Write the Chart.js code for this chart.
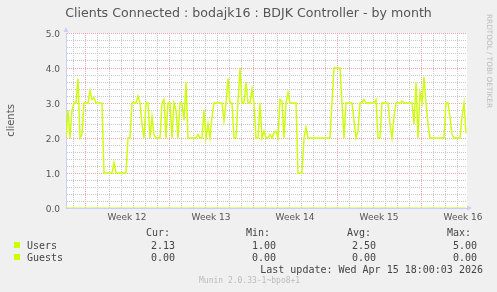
<!DOCTYPE html>
<html lang="en">
<head>
  <meta charset="UTF-8" />
  <title>Clients Connected : bodajk16 : BDJK Controller - by month</title>
  <script src="https://cdn.jsdelivr.net/npm/chart.js"></script>
  <style>
    * { box-sizing: border-box; margin: 0; padding: 0; }
    body { width: 497px; height: 292px; background: #f0f0f0; overflow: hidden; position: relative; font-family: "DejaVu Sans", sans-serif; }
    #graph { position: absolute; left: 0; top: 0; }
    .txt { position: absolute; white-space: pre; }
    #title { left: 0; width: 497px; top: 7px; text-align: center; font-size: 12.6px; line-height: 12px; color: #555; }
    #rrd { left: 485px; top: 14px; writing-mode: vertical-rl; font-size: 7.3px; line-height: 8px; color: #bbb; }
    .mono { font-family: "DejaVu Sans Mono", monospace; font-size: 10px; line-height: 10px; color: #444; }
    .num { text-align: right; }
    .sq { position: absolute; width: 6px; height: 6px; background: #ccff00; }
    #munin { left: 199px; top: 277px; font-family: "DejaVu Sans Mono", monospace; font-size: 8px; line-height: 8px; color: #bbb; }
  </style>
</head>
<body>
  <canvas id="graph" width="497" height="292"></canvas>

  <div class="txt" id="title">Clients Connected : bodajk16 : BDJK Controller - by month</div>
  <div class="txt" id="rrd">RRDTOOL / TOBI OETIKER</div>

  <div class="txt mono" style="left:146px; top:228px;">Cur:</div>
  <div class="txt mono" style="left:246px; top:228px;">Min:</div>
  <div class="txt mono" style="left:347px; top:228px;">Avg:</div>
  <div class="txt mono" style="left:447px; top:228px;">Max:</div>

  <div class="sq" style="left:14px; top:242px;"></div>
  <div class="txt mono" style="left:27px; top:241px;">Users</div>
  <div class="txt mono num" style="right:322px; top:241px;">2.13</div>
  <div class="txt mono num" style="right:221px; top:241px;">1.00</div>
  <div class="txt mono num" style="right:121px; top:241px;">2.50</div>
  <div class="txt mono num" style="right:20px; top:241px;">5.00</div>

  <div class="sq" style="left:14px; top:254px;"></div>
  <div class="txt mono" style="left:27px; top:253px;">Guests</div>
  <div class="txt mono num" style="right:322px; top:253px;">0.00</div>
  <div class="txt mono num" style="right:221px; top:253px;">0.00</div>
  <div class="txt mono num" style="right:121px; top:253px;">0.00</div>
  <div class="txt mono num" style="right:20px; top:253px;">0.00</div>

  <div class="txt mono num" style="right:14px; top:265px;">Last update: Wed Apr 15 18:00:03 2026</div>
  <div class="txt" id="munin">Munin 2.0.33-1~bpo8+1</div>

  <script>
    // hours since start of the graph (one reading every 4 hours)
    const sampleStep = 4;
    const weekLabels = ["Week 12", "Week 13", "Week 14", "Week 15", "Week 16"];
    const weekStarts = [38, 206, 374, 542, 710];   // Monday 00:00 of each week
    const firstDayLine = 14;
    const lastHour = 802;

    const usersValues = [
      2.0, 2.8, 2.0, 2.8, 3.0, 3.0, 3.7, 2.0, 2.1, 3.0,
      3.0, 3.0, 3.35, 3.1, 3.15, 3.0, 3.0, 3.0, 3.0, 1.0,
      1.0, 1.0, 1.0, 1.0, 1.3, 1.0, 1.0, 1.0, 1.0, 1.0,
      1.0, 2.0, 2.0, 3.0, 3.0, 3.0, 3.2, 3.0, 2.4, 2.0,
      3.0, 3.0, 2.0, 2.6, 2.1, 2.0, 2.0, 2.0, 3.0, 3.1,
      2.0, 3.0, 3.0, 2.0, 3.0, 2.8, 2.0, 3.0, 3.0, 2.5,
      3.6, 2.0, 2.0, 2.0, 2.0, 2.0, 2.1, 2.0, 2.0, 2.8,
      2.0, 2.4, 2.0, 2.6, 3.0, 3.0, 3.0, 3.0, 3.0, 2.5,
      3.0, 3.7, 3.0, 3.0, 2.0, 2.0, 3.05, 4.0, 3.0, 3.0,
      3.6, 3.0, 3.0, 3.4, 3.0, 2.0, 2.0, 3.0, 2.0, 2.2,
      2.0, 2.0, 2.1, 2.0, 2.15, 2.2, 2.0, 3.1, 3.05, 2.0,
      3.0, 3.3, 3.0, 3.0, 3.0, 3.0, 1.0, 1.0, 1.0, 2.0,
      2.3, 2.0, 2.0, 2.0, 2.0, 2.0, 2.0, 2.0, 2.0, 2.0,
      2.0, 2.0, 2.0, 3.0, 4.0, 4.0, 4.0, 4.0, 3.0, 2.0,
      3.0, 3.0, 3.0, 3.0, 2.5, 2.0, 2.2, 3.0, 3.0, 3.1,
      3.0, 3.0, 3.0, 3.0, 3.0, 3.1, 2.0, 2.0, 3.0, 3.0,
      3.0, 3.0, 2.4, 2.0, 2.6, 3.0, 3.0, 3.0, 3.05, 3.0,
      3.0, 3.0, 3.0, 3.0, 2.4, 3.6, 2.0, 3.3, 3.0, 3.75,
      3.0, 2.4, 2.0, 2.0, 2.0, 2.0, 2.0, 2.0, 2.0, 2.0,
      3.0, 3.0, 2.6, 2.1, 2.0, 2.0, 2.0, 2.0, 2.6, 3.0,
      2.13
    ];
    const guestsHours = [0, 800];
    const guestsValues = [0, 0];

    const weekMids = weekStarts.map(h => h + 84);
    const dayLines = [];
    for (let h = firstDayLine; h < lastHour; h += 24) dayLines.push(h);
    const xTicks = dayLines.concat(weekMids).sort((a, b) => a - b);

    const usersData = usersValues.map((v, i) => ({ x: i * sampleStep, y: v }));
    const guestsData = guestsValues.map((v, i) => ({ x: guestsHours[i], y: v }));

    const red = "#eea6a6";
    const gray = "#c8c8c8";

    const munin = {
      id: "munin",
      beforeDraw(chart) {
        const { ctx, chartArea: a } = chart;
        ctx.save();
        ctx.fillStyle = "#fff";
        ctx.fillRect(a.left, a.top, a.right - a.left, a.bottom - a.top);
        ctx.restore();
      },
      afterDraw(chart) {
        const { ctx, chartArea: a } = chart;
        ctx.save();
        ctx.fillStyle = "#c9cff5";
        ctx.beginPath();
        ctx.moveTo(a.left - 2.5, a.top - 1);
        ctx.lineTo(a.left + 2.5, a.top - 1);
        ctx.lineTo(a.left, a.top - 6);
        ctx.fill();
        ctx.beginPath();
        ctx.moveTo(a.right, a.bottom - 2.5);
        ctx.lineTo(a.right, a.bottom + 2.5);
        ctx.lineTo(a.right + 5, a.bottom);
        ctx.fill();
        ctx.restore();
      }
    };

    new Chart(document.getElementById("graph"), {
      type: "line",
      data: {
        datasets: [
          { label: "Guests", data: guestsData, borderColor: "#ccff00", borderWidth: 1.2, pointRadius: 0 },
          { label: "Users", data: usersData, borderColor: "#ccff00", borderWidth: 1.4, pointRadius: 0, tension: 0 }
        ]
      },
      options: {
        responsive: false,
        animation: false,
        events: [],
        layout: { padding: { left: 0, right: 30, top: 33, bottom: 70 } },
        plugins: { legend: { display: false }, tooltip: { enabled: false } },
        scales: {
          x: {
            type: "linear",
            min: 0,
            max: lastHour,
            afterFit: s => { s.height = 14; },
            afterBuildTicks: s => { s.ticks = xTicks.map(v => ({ value: v })); },
            grid: {
              drawTicks: false,
              lineWidth: 1,
              color: c => weekStarts.includes(c.tick && c.tick.value) ? red
                : (weekMids.includes(c.tick && c.tick.value) ? "rgba(0,0,0,0)" : gray)
            },
            border: { display: true, color: "#c9cff5", width: 1, dash: [1, 1] },
            ticks: {
              autoSkip: false,
              maxRotation: 0,
              padding: 4,
              color: "#555",
              font: { family: "DejaVu Sans", size: 9 },
              callback: v => {
                const i = weekMids.indexOf(v);
                return i >= 0 ? weekLabels[i] : "";
              }
            }
          },
          y: {
            min: 0,
            max: 5,
            afterFit: s => { s.width = 66; },
            grid: {
              drawTicks: false,
              lineWidth: 1,
              color: c => {
                const v = Math.round(c.tick.value * 10);
                if (v === 0) return "rgba(0,0,0,0)";
                return v % 10 === 0 ? red : gray;
              }
            },
            border: { display: true, color: "#c9cff5", width: 1, dash: [1, 1] },
            ticks: {
              stepSize: 0.2,
              autoSkip: false,
              padding: 6,
              labelOffset: 2,
              color: "#555",
              font: { family: "DejaVu Sans", size: 9 },
              callback: v => Math.round(v * 10) % 10 === 0 ? v.toFixed(1) : ""
            },
            title: {
              display: true,
              text: "clients",
              color: "#555",
              font: { family: "DejaVu Sans", size: 10 },
              padding: { top: 5, bottom: 0 }
            }
          }
        }
      },
      plugins: [munin]
    });
  </script>
</body>
</html>
